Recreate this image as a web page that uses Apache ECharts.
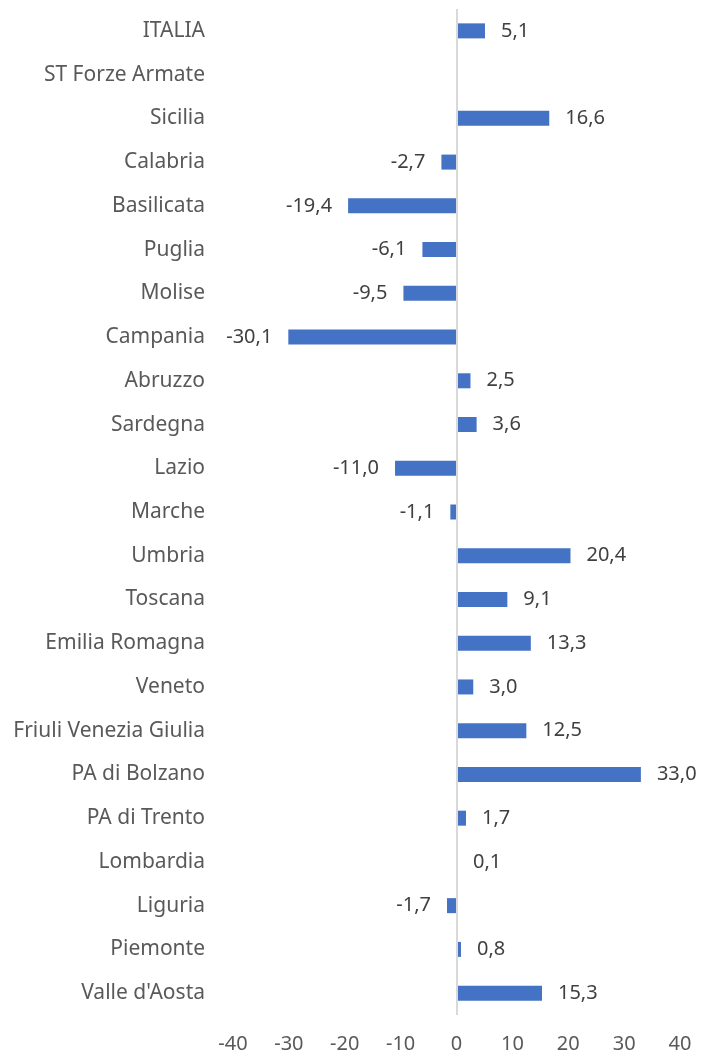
<!DOCTYPE html>
<html>
<head>
<meta charset="utf-8">
<script src="https://cdn.jsdelivr.net/npm/echarts@6/dist/echarts.min.js"></script>
<style>
  html, body { margin: 0; padding: 0; background: #fff; }
  #main { width: 705px; height: 1058px; }
</style>
</head>
<body>
<div id="main"></div>
<script>
// regioni, dall'alto in basso
var regioni = ['ITALIA', 'ST Forze Armate', 'Sicilia', 'Calabria', 'Basilicata', 'Puglia', 'Molise',
  'Campania', 'Abruzzo', 'Sardegna', 'Lazio', 'Marche', 'Umbria', 'Toscana', 'Emilia Romagna',
  'Veneto', 'Friuli Venezia Giulia', 'PA di Bolzano', 'PA di Trento', 'Lombardia', 'Liguria',
  'Piemonte', "Valle d'Aosta"];
var valori = [5.1, null, 16.6, -2.7, -19.4, -6.1, -9.5, -30.1, 2.5, 3.6, -11.0, -1.1, 20.4, 9.1,
  13.3, 3.0, 12.5, 33.0, 1.7, 0.1, -1.7, 0.8, 15.3];
var asseMin = -40, asseMax = 40, asseStep = 10;

var chart = echarts.init(document.getElementById('main'));

// etichette a destra per i positivi, a sinistra per i negativi
var dati = valori.map(function (v) {
  return { value: v, label: { position: (v !== null && v < 0) ? 'left' : 'right' } };
});

var option = {
  animation: false,
  textStyle: { fontFamily: 'Noto Sans' },
  grid: { left: 233, right: 25, top: 9, bottom: 43, containLabel: false },
  xAxis: {
    type: 'value',
    min: asseMin, max: asseMax, interval: asseStep,
    axisLine: { show: false },
    axisTick: { show: false },
    splitLine: { show: false },
    axisLabel: { color: '#595959', fontSize: 20, margin: 19 }
  },
  yAxis: {
    type: 'category',
    data: regioni,
    inverse: true,
    axisLine: { show: false },
    axisTick: { show: false },
    axisLabel: { color: '#595959', fontSize: 21, margin: 28 }
  },
  series: [{
    type: 'bar',
    data: dati,
    barWidth: 15,
    itemStyle: { color: '#4472C4' },
    label: {
      show: true,
      distance: 16,
      color: '#404040',
      fontSize: 20,
      formatter: function (p) {
        return p.value == null ? '' : p.value.toFixed(1).replace('.', ',');
      }
    },
    markLine: {
      silent: true,
      symbol: 'none',
      label: { show: false },
      lineStyle: { color: '#D9D9D9', width: 2, type: 'solid' },
      data: [{ xAxis: 0 }]
    }
  }]
};

chart.setOption(option);
window.onresize = function () { chart.resize(); };
</script>
</body>
</html>
